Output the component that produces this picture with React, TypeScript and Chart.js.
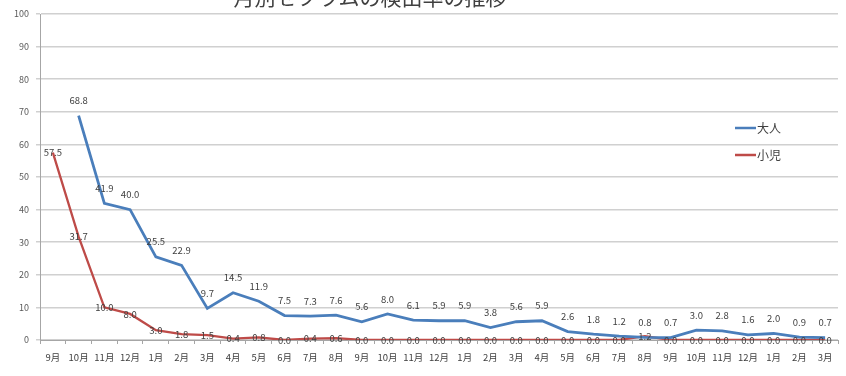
import React, { useEffect, useRef } from "react";
import { Chart, registerables } from "chart.js";

Chart.register(...registerables);

const titleText = "月別セフラムの検出率の推移";
const categories = [
  "9月", "10月", "11月", "12月", "1月", "2月", "3月", "4月", "5月", "6月", "7月", "8月",
  "9月", "10月", "11月", "12月", "1月", "2月", "3月", "4月", "5月", "6月", "7月", "8月",
  "9月", "10月", "11月", "12月", "1月", "2月", "3月",
];
const adultLabel = "大人";
const childLabel = "小児";
const adultValues: (number | null)[] = [
  null, 68.8, 41.9, 40.0, 25.5, 22.9, 9.7, 14.5, 11.9, 7.5, 7.3, 7.6,
  5.6, 8.0, 6.1, 5.9, 5.9, 3.8, 5.6, 5.9, 2.6, 1.8, 1.2, 0.8,
  0.7, 3.0, 2.8, 1.6, 2.0, 0.9, 0.7,
];
const childValues: number[] = [
  57.5, 31.7, 10.0, 8.0, 3.0, 1.8, 1.5, 0.4, 0.8, 0.0, 0.4, 0.6,
  0.0, 0.0, 0.0, 0.0, 0.0, 0.0, 0.0, 0.0, 0.0, 0.0, 0.0, 1.2,
  0.0, 0.0, 0.0, 0.0, 0.0, 0.0, 0.0,
];
const yTicks = [0, 10, 20, 30, 40, 50, 60, 70, 80, 90, 100];

const FONT = '"Noto Sans CJK JP", "Noto Sans", sans-serif';
const BLUE = "#4a7ebb";
const RED = "#be4b48";

const labelOffsets = [15, 0];

const dataLabelPlugin = {
  id: "dataLabels",
  afterDatasetsDraw(chart: any) {
    const ctx = chart.ctx;
    ctx.save();
    ctx.font = `9.5px ${FONT}`;
    ctx.fillStyle = "#404040";
    ctx.textAlign = "center";
    ctx.textBaseline = "middle";
    chart.data.datasets.forEach((ds: any, di: number) => {
      const meta = chart.getDatasetMeta(di);
      meta.data.forEach((pt: any, i: number) => {
        const v = ds.data[i];
        if (v === null || v === undefined) return;
        ctx.fillText(v.toFixed(1), pt.x, pt.y - labelOffsets[di]);
      });
    });
    ctx.restore();
  },
};

const legendPlugin = {
  id: "innerLegend",
  afterDraw(chart: any) {
    const ctx = chart.ctx;
    const area = chart.chartArea;
    ctx.save();
    ctx.font = `12px ${FONT}`;
    ctx.textBaseline = "middle";
    ctx.textAlign = "left";
    chart.data.datasets.forEach((ds: any, i: number) => {
      const x = area.right - 103;
      const y = 128 + i * 27;
      ctx.strokeStyle = ds.borderColor;
      ctx.lineWidth = 2.5;
      ctx.beginPath();
      ctx.moveTo(x, y);
      ctx.lineTo(x + 21, y);
      ctx.stroke();
      ctx.fillStyle = "#404040";
      ctx.fillText(ds.label, x + 22, y);
    });
    ctx.restore();
  },
};

const titlePlugin = {
  id: "cutTitle",
  afterDraw(chart: any) {
    const ctx = chart.ctx;
    ctx.save();
    ctx.font = `21px ${FONT}`;
    ctx.fillStyle = "#404040";
    ctx.textAlign = "center";
    ctx.textBaseline = "middle";
    ctx.fillText(titleText, 370, -3);
    ctx.restore();
  },
};

export default function App() {
  const ref = useRef<HTMLCanvasElement | null>(null);
  useEffect(() => {
    if (!ref.current) return;
    const chart = new Chart(ref.current, {
      type: "line",
      data: {
        labels: categories,
        datasets: [
          {
            label: adultLabel,
            data: adultValues,
            borderColor: BLUE,
            backgroundColor: BLUE,
            borderWidth: 2.8,
            pointRadius: 0,
            tension: 0,
          },
          {
            label: childLabel,
            data: childValues,
            borderColor: RED,
            backgroundColor: RED,
            borderWidth: 2.3,
            pointRadius: 0,
            tension: 0,
          },
        ],
      },
      options: {
        responsive: false,
        animation: false,
        layout: { padding: { top: 14, right: 8, left: 0, bottom: 0 } },
        plugins: {
          legend: { display: false },
          title: { display: false },
          tooltip: { enabled: false },
        },
        scales: {
          x: {
            offset: true,
            grid: {
              offset: true,
              drawOnChartArea: false,
              drawTicks: true,
              tickLength: 4,
              color: "#a6a6a6",
            },
            border: { color: "#a6a6a6", width: 1 },
            ticks: {
              font: { family: FONT, size: 9.5 },
              color: "#404040",
              padding: 8,
              maxRotation: 0,
              autoSkip: false,
            },
            afterFit: (s: any) => {
              s.height = 36;
            },
          },
          y: {
            min: 0,
            max: 100,
            afterBuildTicks: (s: any) => {
              s.ticks = yTicks.map((v) => ({ value: v }));
            },
            grid: {
              color: "#d0d0d0",
              lineWidth: 1.5,
              tickLength: 4,
            },
            border: { color: "#a6a6a6", width: 1 },
            ticks: {
              font: { family: FONT, size: 9 },
              color: "#595959",
              padding: 7,
            },
            afterFit: (s: any) => {
              s.width = 40;
            },
          },
        },
      },
      plugins: [dataLabelPlugin, legendPlugin, titlePlugin],
    });
    return () => chart.destroy();
  }, []);
  return (
    <div style={{ position: "fixed", left: 0, top: 0, width: 846, height: 376, background: "#fff" }}>
      <canvas ref={ref} width={846} height={376} />
    </div>
  );
}
